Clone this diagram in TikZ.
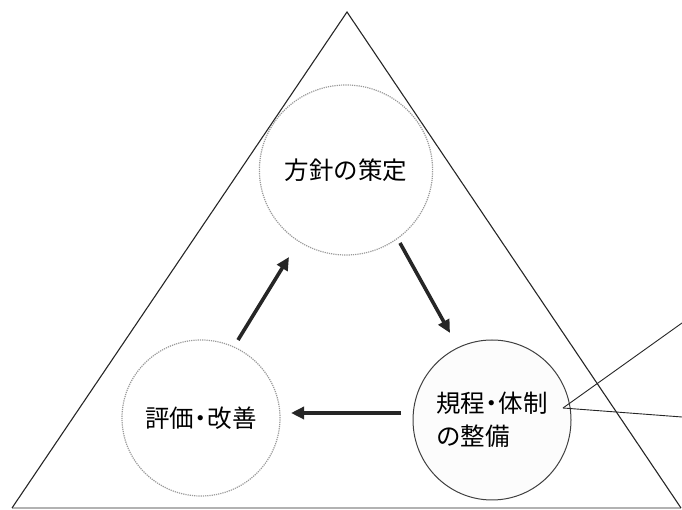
\documentclass[tikz,border=0pt]{standalone}
\usepackage{fontspec}
\newfontfamily\jp{Noto Sans CJK JP}
\usetikzlibrary{shapes.geometric,arrows.meta}
\newcommand{\nakaguro}{\kern-0.22em・\kern-0.22em}
\tikzset{
  x=1pt,y=1pt,
  side/.style={draw=black!85, line width=1.1pt},
  base/.style={draw=gray!60, line width=1.2pt},
  dotcircle/.style={ellipse, draw=gray!80, densely dotted, line width=1.2pt, font=\jp\fontsize{24.5}{24.5}\selectfont, inner sep=0pt},
  solidcircle/.style={ellipse, draw=black!75, line width=1pt, fill=gray!2, font=\jp\fontsize{24.5}{33}\selectfont, inner sep=0pt, align=left},
  flow/.style={draw=black!85, line width=3.6pt, -{Triangle[length=13pt, width=12pt]}},
  leader/.style={draw=black!85, line width=0.9pt}
}
\begin{document}
\begin{tikzpicture}
\useasboundingbox (0,0) rectangle (682,510);
% triangle
\coordinate (apex) at (347,498);
\coordinate (bl) at (12,2);
\coordinate (br) at (681,2);
\draw[base] (bl) -- (br);
\draw[side] (bl) -- (apex) -- (br);
% circles
\node[dotcircle, minimum width=152pt, minimum height=170pt] (plan) at (346,340) {方針の策定};
\node[dotcircle, minimum width=138pt, minimum height=156pt] (eval) at (201,92) {評価\nakaguro 改善};
\node[solidcircle, minimum width=141pt, minimum height=160pt] (rule) at (492,90) {規程\nakaguro 体制\\の整備};
% arrow end points
\coordinate (a1s) at (238,170);
\coordinate (a1e) at (289,253);
\coordinate (a2s) at (400,267);
\coordinate (a2e) at (450,177);
\coordinate (a3s) at (401,97);
\coordinate (a3e) at (291,97);
\draw[flow] (a1s) -- (a1e);
\draw[flow] (a2s) -- (a2e);
\draw[flow, line width=4.4pt] (a3s) -- (a3e);
% leader lines
\coordinate (lstart) at (563,102);
\coordinate (lup) at (682,187);
\coordinate (lmid) at (682,93);
\draw[leader] (lstart) -- (lup);
\draw[leader] (lstart) -- (lmid);
\end{tikzpicture}
\end{document}
